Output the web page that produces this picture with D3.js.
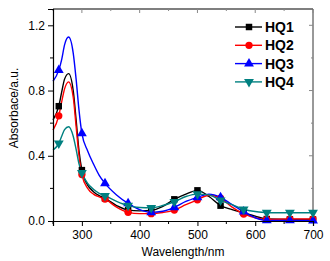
<!DOCTYPE html>
<html>
<head>
<meta charset="utf-8">
<script src="https://cdn.jsdelivr.net/npm/d3@7"></script>
<style>
  body { margin: 0; background: #fff; }
  svg { display: block; font-family: Arial, "Liberation Sans", sans-serif; }
</style>
</head>
<body>
<div id="chart"></div>
<script>
// wavelengths sampled along the curves
var wl = [250, 260, 265, 270, 277, 285, 290, 295, 300, 310, 320, 330, 340, 360, 380, 400, 420, 440, 460, 480, 500, 520, 540, 560, 580, 600, 620, 660, 700]
var markerWl = [260, 300, 340, 380, 420, 460, 500, 540, 580, 620, 660, 700]

var hq1 = [0.62, 0.704, 0.79, 0.87, 0.904, 0.8, 0.62, 0.43, 0.312, 0.22, 0.18, 0.155, 0.139, 0.095, 0.067, 0.062, 0.065, 0.09, 0.133, 0.165, 0.188, 0.15, 0.094, 0.07, 0.05, 0.03, 0.012, 0.01, 0.01]
var hq2 = [0.557, 0.645, 0.73, 0.81, 0.853, 0.76, 0.58, 0.4, 0.285, 0.2, 0.165, 0.148, 0.135, 0.085, 0.053, 0.045, 0.045, 0.052, 0.067, 0.1, 0.13, 0.158, 0.14, 0.085, 0.043, 0.02, 0.01, 0.012, 0.012]
var hq3 = [0.857, 0.925, 0.99, 1.08, 1.128, 1.03, 0.87, 0.68, 0.537, 0.43, 0.35, 0.28, 0.231, 0.16, 0.108, 0.07, 0.053, 0.06, 0.084, 0.12, 0.145, 0.165, 0.145, 0.1, 0.057, 0.02, 0.003, 0.003, 0.002]
var hq4 = [0.435, 0.476, 0.52, 0.56, 0.578, 0.52, 0.44, 0.35, 0.296, 0.23, 0.195, 0.17, 0.155, 0.12, 0.094, 0.083, 0.081, 0.095, 0.118, 0.15, 0.165, 0.16, 0.127, 0.1, 0.072, 0.058, 0.051, 0.051, 0.051]

var seriesNames = ["HQ1", "HQ2", "HQ3", "HQ4"]
var seriesColors = ["#000000", "#ff0000", "#0000ff", "#008080"]
var seriesMarkers = [d3.symbolSquare, d3.symbolCircle, d3.symbolTriangle, "down"]
var xTicks = [300, 400, 500, 600, 700]
var yTicks = [0.0, 0.4, 0.8, 1.2]

var width = 330, height = 261
var margin = {left: 53, right: 17, top: 9, bottom: 40}

var svg = d3.select("#chart").append("svg")
  .attr("width", width)
  .attr("height", height)

var x = d3.scaleLinear().domain([250, 700]).range([margin.left, width - margin.right])
var y = d3.scaleLinear().domain([0, 1.3]).range([height - margin.bottom, margin.top])

var series = [hq1, hq2, hq3, hq4].map(function (vals, i) {
  return {
    name: seriesNames[i],
    color: seriesColors[i],
    marker: seriesMarkers[i],
    points: wl.map(function (w, j) { return {w: w, v: vals[j]} })
  }
})

function symbolPath(type, size) {
  if (type === "down") {
    return d3.symbol().type(d3.symbolTriangle).size(size)()
  }
  return d3.symbol().type(type).size(size)()
}
function symbolTransform(type, px, py) {
  return type === "down" ? `translate(${px},${py}) rotate(180)` : `translate(${px},${py})`
}
var markerSize = {}
markerSize[d3.symbolSquare] = 36
markerSize[d3.symbolCircle] = 40
markerSize[d3.symbolTriangle] = 42
markerSize["down"] = 42

// frame: top and right mirrors
var x0 = margin.left, x1 = width - margin.right, y0 = height - margin.bottom, y1 = margin.top
svg.append("line").attr("x1", x0).attr("x2", x1).attr("y1", y1).attr("y2", y1)
  .attr("stroke", "#555").attr("stroke-width", 1.5)
svg.append("line").attr("x1", x1).attr("x2", x1).attr("y1", y1).attr("y2", y0)
  .attr("stroke", "#333").attr("stroke-width", 1)
d3.range(250, 701, 50).forEach(function (t) {
  svg.append("line").attr("x1", x(t)).attr("x2", x(t)).attr("y1", y1).attr("y2", y1 + (t % 100 === 0 ? 4 : 2))
    .attr("stroke", "#888")
})
d3.range(0, 1.21, 0.2).forEach(function (t) {
  svg.append("line").attr("x1", x1).attr("x2", x1 - (Math.round(t * 10) % 4 === 0 ? 4 : 2)).attr("y1", y(t)).attr("y2", y(t))
    .attr("stroke", "#888")
})

// lines
var line = d3.line()
  .x(function (d) { return x(d.w) })
  .y(function (d) { return y(d.v) })
  .curve(d3.curveMonotoneX)

var plot = svg.append("g")
series.forEach(function (s) {
  plot.append("path")
    .attr("d", line(s.points))
    .attr("fill", "none")
    .attr("stroke", s.color)
    .attr("stroke-width", 1.4)
})
series.forEach(function (s) {
  plot.selectAll(null)
    .data(s.points.filter(function (p) { return markerWl.indexOf(p.w) >= 0 }))
    .enter().append("path")
    .attr("d", symbolPath(s.marker, markerSize[s.marker]))
    .attr("transform", function (p) { return symbolTransform(s.marker, x(p.w), y(p.v)) })
    .attr("fill", s.color)
})

// axes
var xAxis = svg.append("g")
  .attr("transform", `translate(0,${y0})`)
  .call(d3.axisBottom(x).tickValues(xTicks).tickSize(5).tickPadding(4).tickFormat(d3.format("d")))
xAxis.append("g").selectAll("line")
  .data([250, 350, 450, 550, 650])
  .enter().append("line")
  .attr("x1", x).attr("x2", x).attr("y1", 0).attr("y2", 3).attr("stroke", "#000")

var yAxis = svg.append("g")
  .attr("transform", `translate(${x0},0)`)
  .call(d3.axisLeft(y).tickValues(yTicks).tickSize(5).tickPadding(3).tickFormat(d3.format(".1f")))
yAxis.append("g").selectAll("line")
  .data([0.2, 0.6, 1.0])
  .enter().append("line")
  .attr("y1", y).attr("y2", y).attr("x1", 0).attr("x2", -3).attr("stroke", "#000")

svg.selectAll(".domain").attr("stroke", "#000").attr("stroke-width", 1.2)
svg.selectAll(".tick text").attr("font-size", 12).attr("fill", "#000")
  .style("font-family", "Arial, 'Liberation Sans', sans-serif")

// axis titles
svg.append("text")
  .attr("x", (x0 + x1) / 2).attr("y", 256)
  .attr("text-anchor", "middle").attr("font-size", 12)
  .text("Wavelength/nm")
svg.append("text")
  .attr("transform", `translate(18,108) rotate(-90)`)
  .attr("text-anchor", "middle").attr("font-size", 12)
  .text("Absorbace/a.u.")

// legend
var legend = svg.append("g").attr("transform", "translate(235,27)")
series.forEach(function (s, i) {
  var g = legend.append("g").attr("transform", `translate(0,${i * 18.3})`)
  g.append("line").attr("x1", 0).attr("x2", 27).attr("y1", 0).attr("y2", 0)
    .attr("stroke", s.color).attr("stroke-width", 1.4)
  g.append("path")
    .attr("d", symbolPath(s.marker, markerSize[s.marker]))
    .attr("transform", symbolTransform(s.marker, 14, 0))
    .attr("fill", s.color)
  g.append("text").attr("x", 30).attr("y", 5)
    .attr("font-size", 14).attr("font-weight", "bold")
    .text(s.name)
})
</script>
</body>
</html>
